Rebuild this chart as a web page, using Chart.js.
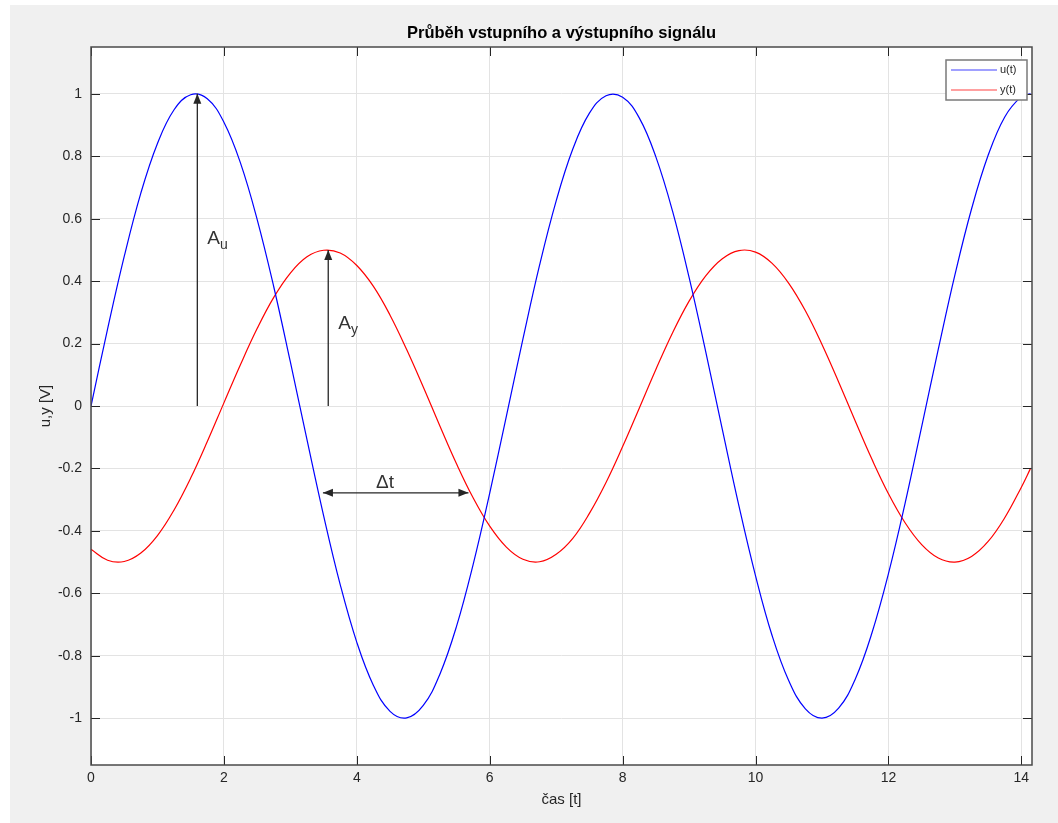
<!DOCTYPE html>
<html lang="cs">
<head>
    <meta charset="UTF-8">
    <title>Průběh vstupního a výstupního signálu</title>
    <script src="https://cdn.jsdelivr.net/npm/chart.js@4"></script>
    <style>
        html, body { margin: 0; padding: 0; background: #ffffff; }
        #chart { display: block; }
    </style>
</head>
<body>
<canvas id="chart" width="1058" height="823"></canvas>
<script>
    // time axis (s) and the two signals
    const times = [
        0, 0.25, 0.5, 0.75, 1, 1.25, 1.5, 1.75, 2, 2.25,
        2.5, 2.75, 3, 3.25, 3.5, 3.75, 4, 4.25, 4.5, 4.75,
        5, 5.25, 5.5, 5.75, 6, 6.25, 6.5, 6.75, 7, 7.25,
        7.5, 7.75, 8, 8.25, 8.5, 8.75, 9, 9.25, 9.5, 9.75,
        10, 10.25, 10.5, 10.75, 11, 11.25, 11.5, 11.75, 12, 12.25,
        12.5, 12.75, 13, 13.25, 13.5, 13.75, 14, 14.14
    ];
    const uValues = [
        0, 0.247, 0.479, 0.682, 0.841, 0.949, 0.997, 0.984, 0.909, 0.778,
        0.598, 0.382, 0.141, -0.108, -0.351, -0.572, -0.757, -0.895, -0.978, -0.999,
        -0.959, -0.859, -0.706, -0.508, -0.279, -0.033, 0.215, 0.451, 0.657, 0.823,
        0.938, 0.994, 0.989, 0.923, 0.798, 0.625, 0.412, 0.174, -0.075, -0.320,
        -0.544, -0.736, -0.880, -0.970, -1.000, -0.968, -0.875, -0.728, -0.537, -0.312,
        -0.066, 0.182, 0.420, 0.631, 0.803, 0.926, 0.991, 1.000
    ];
    const yValues = [
        -0.459, -0.494, -0.498, -0.471, -0.415, -0.333, -0.231, -0.114, 0.010, 0.133,
        0.248, 0.348, 0.426, 0.478, 0.499, 0.490, 0.450, 0.383, 0.291, 0.181,
        0.061, -0.064, -0.185, -0.294, -0.385, -0.452, -0.491, -0.499, -0.475, -0.424,
        -0.344, -0.245, -0.130, -0.007, 0.117, 0.234, 0.336, 0.417, 0.472, 0.498,
        0.493, 0.457, 0.393, 0.305, 0.197, 0.077, -0.048, -0.170, -0.281, -0.374,
        -0.444, -0.487, -0.500, -0.482, -0.434, -0.358, -0.260, -0.199
    ];
    const seriesNames = ['u(t)', 'y(t)'];

    // annotation arrows and their labels, in data units
    const arrows = [
        { from: [1.6, 0], to: [1.6, 1.0], both: false },
        { from: [3.57, 0], to: [3.57, 0.5], both: false },
        { from: [3.49, -0.278], to: [5.68, -0.278], both: true }
    ];
    const arrowLabels = [
        { text: 'A', sub: 'u', at: [1.75, 0.519] },
        { text: 'A', sub: 'y', at: [3.72, 0.247] },
        { text: 'Δt', sub: '', at: [4.29, -0.263] }
    ];

    const FONT = "'Liberation Sans', Arial, Helvetica, sans-serif";
    const INK = '#262626';

    function arrowHead(ctx, x, y, ang) {
        ctx.beginPath();
        ctx.moveTo(x, y);
        ctx.lineTo(x - 10 * Math.cos(ang) + 4 * Math.sin(ang), y - 10 * Math.sin(ang) - 4 * Math.cos(ang));
        ctx.lineTo(x - 10 * Math.cos(ang) - 4 * Math.sin(ang), y - 10 * Math.sin(ang) + 4 * Math.cos(ang));
        ctx.closePath();
        ctx.fill();
    }

    const matlabLook = {
        id: 'matlabLook',
        beforeDraw(chart) {
            const ctx = chart.ctx, a = chart.chartArea;
            ctx.save();
            ctx.fillStyle = '#ffffff';
            ctx.fillRect(0, 0, chart.width, chart.height);
            ctx.fillStyle = '#f0f0f0';
            ctx.fillRect(10, 5, chart.width - 10, chart.height - 5);
            ctx.fillStyle = '#ffffff';
            ctx.fillRect(a.left, a.top, a.right - a.left, a.bottom - a.top);
            ctx.restore();
        },
        afterDatasetsDraw(chart) {
            const ctx = chart.ctx, xs = chart.scales.x, ys = chart.scales.y;
            ctx.save();
            ctx.strokeStyle = INK;
            ctx.fillStyle = INK;
            ctx.lineWidth = 1.3;
            arrows.forEach(ar => {
                const x0 = xs.getPixelForValue(ar.from[0]), y0 = ys.getPixelForValue(ar.from[1]);
                const x1 = xs.getPixelForValue(ar.to[0]), y1 = ys.getPixelForValue(ar.to[1]);
                ctx.beginPath();
                ctx.moveTo(x0, y0);
                ctx.lineTo(x1, y1);
                ctx.stroke();
                const ang = Math.atan2(y1 - y0, x1 - x0);
                arrowHead(ctx, x1, y1, ang);
                if (ar.both) arrowHead(ctx, x0, y0, ang + Math.PI);
            });
            ctx.fillStyle = '#333333';
            ctx.textBaseline = 'alphabetic';
            ctx.textAlign = 'left';
            arrowLabels.forEach(l => {
                const x = xs.getPixelForValue(l.at[0]), y = ys.getPixelForValue(l.at[1]);
                ctx.font = '19px ' + FONT;
                ctx.fillText(l.text, x, y);
                if (l.sub) {
                    const w = ctx.measureText(l.text).width;
                    ctx.font = '14px ' + FONT;
                    ctx.fillText(l.sub, x + w, y + 5);
                }
            });
            ctx.restore();
        },
        afterDraw(chart) {
            const ctx = chart.ctx, a = chart.chartArea;
            const xs = chart.scales.x, ys = chart.scales.y;
            ctx.save();
            // inward tick marks
            ctx.strokeStyle = INK;
            ctx.lineWidth = 1;
            ctx.beginPath();
            xs.ticks.forEach(t => {
                const x = Math.round(xs.getPixelForValue(t.value)) + 0.5;
                ctx.moveTo(x, a.bottom); ctx.lineTo(x, a.bottom - 9);
                ctx.moveTo(x, a.top); ctx.lineTo(x, a.top + 9);
            });
            ys.ticks.forEach(t => {
                const y = Math.round(ys.getPixelForValue(t.value)) + 0.5;
                ctx.moveTo(a.left, y); ctx.lineTo(a.left + 9, y);
                ctx.moveTo(a.right, y); ctx.lineTo(a.right - 9, y);
            });
            ctx.stroke();
            // axes box
            ctx.strokeStyle = '#4a4a4a';
            ctx.lineWidth = 1.5;
            ctx.strokeRect(a.left, a.top, a.right - a.left, a.bottom - a.top);

            // legend box in the upper right corner
            const bw = 81, bh = 40;
            const bx = a.right - 5 - bw, by = a.top + 13;
            ctx.fillStyle = '#ffffff';
            ctx.fillRect(bx, by, bw, bh);
            ctx.strokeStyle = '#7a7a7a';
            ctx.lineWidth = 1.5;
            ctx.strokeRect(bx, by, bw, bh);
            ctx.font = '11px ' + FONT;
            ctx.textBaseline = 'middle';
            ctx.textAlign = 'left';
            chart.data.datasets.forEach((ds, i) => {
                const ly = by + 10 + i * 20;
                ctx.strokeStyle = ds.legendColor;
                ctx.lineWidth = 1.5;
                ctx.beginPath();
                ctx.moveTo(bx + 5, ly);
                ctx.lineTo(bx + 51, ly);
                ctx.stroke();
                ctx.fillStyle = INK;
                ctx.fillText(ds.label, bx + 54, ly);
            });
            ctx.restore();
        }
    };

    new Chart(document.getElementById('chart'), {
        type: 'line',
        data: {
            datasets: [
                {
                    label: seriesNames[0],
                    data: times.map((t, i) => ({ x: t, y: uValues[i] })),
                    borderColor: '#0000ff',
                    legendColor: '#8080ff',
                    borderWidth: 1.2,
                    pointRadius: 0,
                    tension: 0.4,
                    fill: false
                },
                {
                    label: seriesNames[1],
                    data: times.map((t, i) => ({ x: t, y: yValues[i] })),
                    borderColor: '#ff0000',
                    legendColor: '#ff8080',
                    borderWidth: 1.2,
                    pointRadius: 0,
                    tension: 0.4,
                    fill: false
                }
            ]
        },
        options: {
            responsive: false,
            devicePixelRatio: 1,
            animation: false,
            events: [],
            layout: { padding: { top: 0, left: 0, right: 26, bottom: 0 } },
            plugins: {
                legend: { display: false },
                tooltip: { enabled: false },
                title: {
                    display: true,
                    fullSize: false,
                    text: 'Průběh vstupního a výstupního signálu',
                    color: '#000000',
                    font: { family: FONT, size: 16.5, weight: 'bold', lineHeight: 1.2 },
                    padding: { top: 24, bottom: 3.2 }
                }
            },
            scales: {
                x: {
                    type: 'linear',
                    min: 0,
                    max: 14.16,
                    afterFit(scale) { scale.height = 58; },
                    border: { display: false },
                    grid: { color: '#e3e3e3', drawTicks: false },
                    ticks: {
                        stepSize: 2,
                        includeBounds: false,
                        maxRotation: 0,
                        padding: 5,
                        color: INK,
                        font: { family: FONT, size: 14 }
                    },
                    title: {
                        display: true,
                        text: 'čas [t]',
                        color: INK,
                        font: { family: FONT, size: 15, lineHeight: 1.2 },
                        padding: { top: 0, bottom: 14 }
                    }
                },
                y: {
                    min: -1.15,
                    max: 1.15,
                    afterFit(scale) { scale.width = 91; },
                    border: { display: false },
                    grid: { color: '#e3e3e3', drawTicks: false },
                    ticks: {
                        stepSize: 0.2,
                        includeBounds: false,
                        padding: 9,
                        color: INK,
                        font: { family: FONT, size: 14 },
                        callback: v => String(Number(v.toFixed(1)) + 0)
                    },
                    title: {
                        display: true,
                        text: 'u,y [V]',
                        color: INK,
                        font: { family: FONT, size: 15, lineHeight: 1.2 },
                        padding: { top: 37, bottom: 0 }
                    }
                }
            }
        },
        plugins: [matlabLook]
    });
</script>
</body>
</html>
